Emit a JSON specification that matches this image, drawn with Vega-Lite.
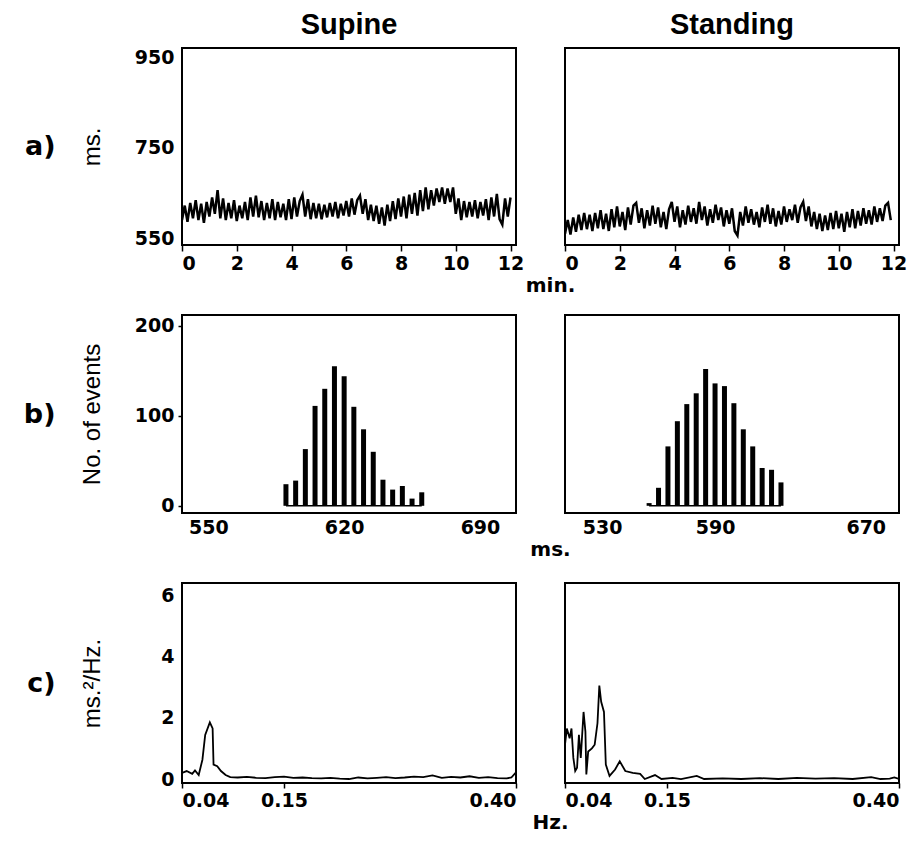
{
  "$schema": "https://vega.github.io/schema/vega-lite/v6.json",
  "background": "white",
  "padding": {"left": 22, "top": 10, "right": 6, "bottom": 4},
  "config": {
    "view": {"stroke": "black", "strokeWidth": 2},
    "axis": {"domain": false, "grid": false, "labelFont": "DejaVu Sans", "labelFontWeight": "bold", "labelFontSize": 19, "labelColor": "black", "tickColor": "black", "tickWidth": 1.5, "titleFont": "Liberation Sans", "titleFontWeight": "normal", "titleFontSize": 24, "titleColor": "black"},
    "axisX": {"titleFont": "DejaVu Sans", "titleFontWeight": "bold", "titleFontSize": 20, "titleX": 368, "titleAlign": "center", "titlePadding": 2}
  },
  "datasets": {
    "supA": [
      {"t":0.0,"v":590},{"t":0.1,"v":622},{"t":0.2,"v":586},{"t":0.3,"v":628},{"t":0.4,"v":594},{"t":0.5,"v":634},{"t":0.6,"v":590},{"t":0.7,"v":626},{"t":0.8,"v":584},{"t":0.9,"v":630},
      {"t":1.0,"v":598},{"t":1.1,"v":640},{"t":1.2,"v":604},{"t":1.3,"v":656},{"t":1.4,"v":594},{"t":1.5,"v":638},{"t":1.6,"v":590},{"t":1.7,"v":628},{"t":1.8,"v":594},{"t":1.9,"v":634},
      {"t":2.0,"v":588},{"t":2.1,"v":622},{"t":2.2,"v":594},{"t":2.3,"v":630},{"t":2.4,"v":590},{"t":2.5,"v":640},{"t":2.6,"v":598},{"t":2.7,"v":644},{"t":2.8,"v":596},{"t":2.9,"v":632},
      {"t":3.0,"v":590},{"t":3.1,"v":628},{"t":3.2,"v":594},{"t":3.3,"v":636},{"t":3.4,"v":590},{"t":3.5,"v":630},{"t":3.6,"v":596},{"t":3.7,"v":626},{"t":3.8,"v":590},{"t":3.9,"v":636},
      {"t":4.0,"v":592},{"t":4.1,"v":640},{"t":4.2,"v":598},{"t":4.3,"v":632},{"t":4.4,"v":646},{"t":4.5,"v":598},{"t":4.6,"v":636},{"t":4.7,"v":592},{"t":4.8,"v":628},{"t":4.9,"v":594},
      {"t":5.0,"v":626},{"t":5.1,"v":592},{"t":5.2,"v":624},{"t":5.3,"v":596},{"t":5.4,"v":628},{"t":5.5,"v":598},{"t":5.6,"v":630},{"t":5.7,"v":594},{"t":5.8,"v":626},{"t":5.9,"v":600},
      {"t":6.0,"v":632},{"t":6.1,"v":598},{"t":6.2,"v":638},{"t":6.3,"v":602},{"t":6.4,"v":634},{"t":6.5,"v":644},{"t":6.6,"v":604},{"t":6.7,"v":636},{"t":6.8,"v":590},{"t":6.9,"v":624},
      {"t":7.0,"v":588},{"t":7.1,"v":622},{"t":7.2,"v":582},{"t":7.3,"v":618},{"t":7.4,"v":578},{"t":7.5,"v":624},{"t":7.6,"v":588},{"t":7.7,"v":632},{"t":7.8,"v":592},{"t":7.9,"v":638},
      {"t":8.0,"v":598},{"t":8.1,"v":642},{"t":8.2,"v":594},{"t":8.3,"v":646},{"t":8.4,"v":604},{"t":8.5,"v":650},{"t":8.6,"v":600},{"t":8.7,"v":656},{"t":8.8,"v":610},{"t":8.9,"v":662},
      {"t":9.0,"v":614},{"t":9.1,"v":656},{"t":9.2,"v":622},{"t":9.3,"v":660},{"t":9.4,"v":630},{"t":9.5,"v":662},{"t":9.6,"v":626},{"t":9.7,"v":660},{"t":9.8,"v":630},{"t":9.9,"v":662},
      {"t":10.0,"v":604},{"t":10.1,"v":638},{"t":10.2,"v":590},{"t":10.3,"v":632},{"t":10.4,"v":596},{"t":10.5,"v":630},{"t":10.6,"v":598},{"t":10.7,"v":634},{"t":10.8,"v":594},{"t":10.9,"v":630},
      {"t":11.0,"v":600},{"t":11.1,"v":636},{"t":11.2,"v":590},{"t":11.3,"v":640},{"t":11.4,"v":598},{"t":11.5,"v":648},{"t":11.6,"v":592},{"t":11.7,"v":580},{"t":11.8,"v":638},{"t":11.9,"v":598},
      {"t":12.0,"v":640}
    ],
    "stdA": [
      {"t":0.0,"v":560},{"t":0.1,"v":590},{"t":0.2,"v":558},{"t":0.3,"v":596},{"t":0.4,"v":564},{"t":0.5,"v":602},{"t":0.6,"v":568},{"t":0.7,"v":606},{"t":0.8,"v":570},{"t":0.9,"v":602},
      {"t":1.0,"v":566},{"t":1.1,"v":606},{"t":1.2,"v":572},{"t":1.3,"v":612},{"t":1.4,"v":570},{"t":1.5,"v":604},{"t":1.6,"v":566},{"t":1.7,"v":614},{"t":1.8,"v":574},{"t":1.9,"v":620},
      {"t":2.0,"v":576},{"t":2.1,"v":608},{"t":2.2,"v":568},{"t":2.3,"v":618},{"t":2.4,"v":580},{"t":2.5,"v":622},{"t":2.6,"v":628},{"t":2.7,"v":584},{"t":2.8,"v":616},{"t":2.9,"v":572},
      {"t":3.0,"v":612},{"t":3.1,"v":578},{"t":3.2,"v":622},{"t":3.3,"v":582},{"t":3.4,"v":618},{"t":3.5,"v":574},{"t":3.6,"v":608},{"t":3.7,"v":570},{"t":3.8,"v":614},{"t":3.9,"v":630},
      {"t":4.0,"v":586},{"t":4.1,"v":620},{"t":4.2,"v":574},{"t":4.3,"v":612},{"t":4.4,"v":580},{"t":4.5,"v":622},{"t":4.6,"v":586},{"t":4.7,"v":616},{"t":4.8,"v":582},{"t":4.9,"v":630},
      {"t":5.0,"v":590},{"t":5.1,"v":620},{"t":5.2,"v":578},{"t":5.3,"v":614},{"t":5.4,"v":584},{"t":5.5,"v":624},{"t":5.6,"v":590},{"t":5.7,"v":618},{"t":5.8,"v":576},{"t":5.9,"v":612},
      {"t":6.0,"v":582},{"t":6.1,"v":616},{"t":6.2,"v":566},{"t":6.3,"v":556},{"t":6.4,"v":608},{"t":6.5,"v":578},{"t":6.6,"v":620},{"t":6.7,"v":584},{"t":6.8,"v":614},{"t":6.9,"v":580},
      {"t":7.0,"v":608},{"t":7.1,"v":574},{"t":7.2,"v":618},{"t":7.3,"v":586},{"t":7.4,"v":624},{"t":7.5,"v":582},{"t":7.6,"v":616},{"t":7.7,"v":576},{"t":7.8,"v":610},{"t":7.9,"v":580},
      {"t":8.0,"v":620},{"t":8.1,"v":586},{"t":8.2,"v":614},{"t":8.3,"v":590},{"t":8.4,"v":624},{"t":8.5,"v":584},{"t":8.6,"v":618},{"t":8.7,"v":630},{"t":8.8,"v":588},{"t":8.9,"v":620},
      {"t":9.0,"v":576},{"t":9.1,"v":608},{"t":9.2,"v":570},{"t":9.3,"v":604},{"t":9.4,"v":566},{"t":9.5,"v":600},{"t":9.6,"v":568},{"t":9.7,"v":606},{"t":9.8,"v":570},{"t":9.9,"v":610},
      {"t":10.0,"v":572},{"t":10.1,"v":604},{"t":10.2,"v":564},{"t":10.3,"v":608},{"t":10.4,"v":574},{"t":10.5,"v":614},{"t":10.6,"v":572},{"t":10.7,"v":610},{"t":10.8,"v":578},{"t":10.9,"v":616},
      {"t":11.0,"v":582},{"t":11.1,"v":612},{"t":11.2,"v":580},{"t":11.3,"v":620},{"t":11.4,"v":586},{"t":11.5,"v":616},{"t":11.6,"v":588},{"t":11.7,"v":622},{"t":11.8,"v":628},{"t":11.9,"v":590}
    ],
    "supB": [
      {"b":590,"n":24},{"b":595,"n":28},{"b":600,"n":63},{"b":605,"n":111},{"b":610,"n":130},{"b":615,"n":155},{"b":620,"n":144},{"b":625,"n":110},
      {"b":630,"n":85},{"b":635,"n":60},{"b":640,"n":29},{"b":645,"n":18},{"b":650,"n":22},{"b":655,"n":8},{"b":660,"n":15}
    ],
    "stdB": [
      {"b":555,"n":3},{"b":560,"n":20},{"b":565,"n":66},{"b":570,"n":94},{"b":575,"n":113},{"b":580,"n":125},{"b":585,"n":152},{"b":590,"n":136},
      {"b":595,"n":133},{"b":600,"n":114},{"b":605,"n":85},{"b":610,"n":66},{"b":615,"n":42},{"b":620,"n":40},{"b":625,"n":26}
    ],
    "supC": [
      {"f":0.040,"p":0.20},{"f":0.045,"p":0.26},{"f":0.051,"p":0.17},{"f":0.054,"p":0.28},{"f":0.058,"p":0.13},{"f":0.062,"p":0.63},{"f":0.065,"p":1.44},
      {"f":0.070,"p":1.85},{"f":0.073,"p":1.65},{"f":0.074,"p":0.47},{"f":0.078,"p":0.42},{"f":0.082,"p":0.26},{"f":0.087,"p":0.13},{"f":0.092,"p":0.06},
      {"f":0.10,"p":0.05},{"f":0.11,"p":0.07},{"f":0.12,"p":0.04},{"f":0.13,"p":0.03},{"f":0.14,"p":0.06},{"f":0.15,"p":0.08},{"f":0.16,"p":0.04},
      {"f":0.17,"p":0.05},{"f":0.18,"p":0.03},{"f":0.19,"p":0.02},{"f":0.20,"p":0.04},{"f":0.21,"p":0.01},{"f":0.22,"p":0.0},{"f":0.23,"p":0.05},
      {"f":0.24,"p":0.02},{"f":0.25,"p":0.04},{"f":0.26,"p":0.06},{"f":0.27,"p":0.03},{"f":0.28,"p":0.05},{"f":0.29,"p":0.08},{"f":0.30,"p":0.06},
      {"f":0.31,"p":0.12},{"f":0.32,"p":0.04},{"f":0.33,"p":0.07},{"f":0.34,"p":0.05},{"f":0.35,"p":0.09},{"f":0.36,"p":0.04},{"f":0.37,"p":0.06},
      {"f":0.38,"p":0.03},{"f":0.39,"p":0.02},{"f":0.395,"p":0.05},{"f":0.40,"p":0.22}
    ],
    "stdC": [
      {"f":0.040,"p":1.12},{"f":0.042,"p":1.65},{"f":0.045,"p":1.33},{"f":0.047,"p":1.65},{"f":0.049,"p":0.69},{"f":0.051,"p":0.26},{"f":0.053,"p":0.37},
      {"f":0.055,"p":1.44},{"f":0.057,"p":0.69},{"f":0.060,"p":2.19},{"f":0.062,"p":1.55},{"f":0.063,"p":0.15},{"f":0.065,"p":0.9},{"f":0.069,"p":1.0},
      {"f":0.072,"p":1.12},{"f":0.075,"p":1.82},{"f":0.077,"p":3.05},{"f":0.079,"p":2.52},{"f":0.082,"p":2.19},{"f":0.084,"p":0.47},{"f":0.088,"p":0.10},
      {"f":0.094,"p":0.31},{"f":0.099,"p":0.58},{"f":0.105,"p":0.26},{"f":0.113,"p":0.20},{"f":0.121,"p":0.17},{"f":0.126,"p":0.0},{"f":0.137,"p":0.13},
      {"f":0.144,"p":0.0},{"f":0.156,"p":0.04},{"f":0.165,"p":0.0},{"f":0.182,"p":0.10},{"f":0.19,"p":0.0},{"f":0.21,"p":0.02},{"f":0.23,"p":0.0},
      {"f":0.25,"p":0.03},{"f":0.27,"p":0.0},{"f":0.29,"p":0.04},{"f":0.31,"p":0.01},{"f":0.33,"p":0.03},{"f":0.35,"p":0.0},{"f":0.37,"p":0.06},
      {"f":0.38,"p":0.0},{"f":0.39,"p":0.01},{"f":0.395,"p":0.05},{"f":0.40,"p":0.0}
    ]
  },
  "columns": 2,
  "bounds": "flush",
  "spacing": {"row": 70, "column": 49},
  "concat": [
    {
      "width": 334, "height": 197,
      "title": {"text": "Supine", "font": "Liberation Sans", "fontSize": 29, "fontWeight": "bold", "color": "black", "offset": 8},
      "data": {"name": "supA"},
      "layer": [
        {
          "mark": {"type": "line", "color": "black", "strokeWidth": 2.5, "clip": true},
          "encoding": {
            "x": {"field": "t", "type": "quantitative", "scale": {"domain": [0, 12.2], "nice": false, "zero": false}, "axis": {"values": [0,2,4,6,8,10,12], "title": "min.", "tickSize": 6, "labelPadding": 3, "labelFlush": true}},
            "y": {"field": "v", "type": "quantitative", "scale": {"domain": [535, 970], "nice": false, "zero": false}, "axis": {"values": [550,750,950], "title": "ms.", "ticks": false, "labelPadding": 8, "minExtent": 60, "maxExtent": 60, "titlePadding": 18}}
          }
        },
        {
          "mark": {"type": "rule", "strokeOpacity": 0},
          "encoding": {
            "y": {"datum": 750, "type": "quantitative", "axis": {"orient": "left", "values": [], "labels": false, "ticks": false, "title": "a)", "titleAngle": 0, "titleX": -127, "titleY": 98, "titleAlign": "right", "titleBaseline": "middle", "titleFont": "DejaVu Sans", "titleFontSize": 27, "titleFontWeight": "bold"}}
          }
        }
      ],
      "resolve": {"axis": {"y": "independent"}}
    },
    {
      "width": 334, "height": 197,
      "title": {"text": "Standing", "font": "Liberation Sans", "fontSize": 29, "fontWeight": "bold", "color": "black", "offset": 8},
      "data": {"name": "stdA"},
      "mark": {"type": "line", "color": "black", "strokeWidth": 2.5, "clip": true},
      "encoding": {
        "x": {"field": "t", "type": "quantitative", "scale": {"domain": [0, 12.2], "nice": false, "zero": false}, "axis": {"values": [0,2,4,6,8,10,12], "title": null, "tickSize": 6, "labelPadding": 3, "labelFlush": true}},
        "y": {"field": "v", "type": "quantitative", "scale": {"domain": [535, 970], "nice": false, "zero": false}, "axis": null}
      }
    },
    {
      "width": 334, "height": 198,
      "data": {"name": "supB"},
      "layer": [
        {
          "mark": {"type": "bar", "color": "black", "size": 5, "clip": true},
          "encoding": {
            "x": {"field": "b", "type": "quantitative", "scale": {"domain": [539, 706], "nice": false, "zero": false}, "axis": {"values": [550,620,690], "title": "ms.", "ticks": false, "labelPadding": 5}},
            "y": {"field": "n", "type": "quantitative", "scale": {"domain": [-8, 212], "nice": false}, "axis": {"values": [0,100,200], "title": "No. of events", "tickSize": 4, "labelPadding": 4, "minExtent": 60, "maxExtent": 60, "titlePadding": 18}}
          }
        },
        {
          "mark": {"type": "rule", "color": "black", "strokeWidth": 1.5},
          "encoding": {
            "x": {"aggregate": "min", "field": "b", "type": "quantitative"},
            "x2": {"aggregate": "max", "field": "b"},
            "y": {"datum": 0, "type": "quantitative", "axis": {"orient": "left", "values": [], "labels": false, "ticks": false, "title": "b)", "titleAngle": 0, "titleX": -127, "titleY": 99, "titleAlign": "right", "titleBaseline": "middle", "titleFont": "DejaVu Sans", "titleFontSize": 27, "titleFontWeight": "bold"}}
          }
        }
      ],
      "resolve": {"axis": {"y": "independent"}}
    },
    {
      "width": 334, "height": 198,
      "data": {"name": "stdB"},
      "layer": [
        {
          "mark": {"type": "bar", "color": "black", "size": 5, "clip": true},
          "encoding": {
            "x": {"field": "b", "type": "quantitative", "scale": {"domain": [513, 685], "nice": false, "zero": false}, "axis": {"values": [530,590,670], "title": null, "ticks": false, "labelPadding": 5}},
            "y": {"field": "n", "type": "quantitative", "scale": {"domain": [-8, 212], "nice": false}, "axis": null}
          }
        },
        {
          "mark": {"type": "rule", "color": "black", "strokeWidth": 1.5},
          "encoding": {
            "x": {"aggregate": "min", "field": "b", "type": "quantitative"},
            "x2": {"aggregate": "max", "field": "b"},
            "y": {"datum": 0}
          }
        }
      ]
    },
    {
      "width": 334, "height": 200,
      "data": {"name": "supC"},
      "layer": [
        {
          "mark": {"type": "line", "color": "black", "strokeWidth": 1.8, "clip": true},
          "encoding": {
            "x": {"field": "f", "type": "quantitative", "scale": {"domain": [0.04, 0.40], "nice": false, "zero": false}, "axis": {"values": [0.04,0.15,0.40], "format": ".2f", "title": "Hz.", "tickSize": 5, "labelPadding": 3, "labelFlush": true}},
            "y": {"field": "p", "type": "quantitative", "scale": {"domain": [-0.13, 6.4], "nice": false, "zero": false}, "axis": {"values": [0,2,4,6], "title": "ms.²/Hz.", "ticks": false, "labelPadding": 8, "minExtent": 60, "maxExtent": 60, "titlePadding": 18}}
          }
        },
        {
          "mark": {"type": "rule", "strokeOpacity": 0},
          "encoding": {
            "y": {"datum": 3, "type": "quantitative", "axis": {"orient": "left", "values": [], "labels": false, "ticks": false, "title": "c)", "titleAngle": 0, "titleX": -127, "titleY": 100, "titleAlign": "right", "titleBaseline": "middle", "titleFont": "DejaVu Sans", "titleFontSize": 27, "titleFontWeight": "bold"}}
          }
        }
      ],
      "resolve": {"axis": {"y": "independent"}}
    },
    {
      "width": 334, "height": 200,
      "data": {"name": "stdC"},
      "mark": {"type": "line", "color": "black", "strokeWidth": 1.8, "clip": true},
      "encoding": {
        "x": {"field": "f", "type": "quantitative", "scale": {"domain": [0.04, 0.40], "nice": false, "zero": false}, "axis": {"values": [0.04,0.15,0.40], "format": ".2f", "title": null, "tickSize": 5, "labelPadding": 3, "labelFlush": true}},
        "y": {"field": "p", "type": "quantitative", "scale": {"domain": [-0.13, 6.4], "nice": false, "zero": false}, "axis": null}
      }
    }
  ]
}
